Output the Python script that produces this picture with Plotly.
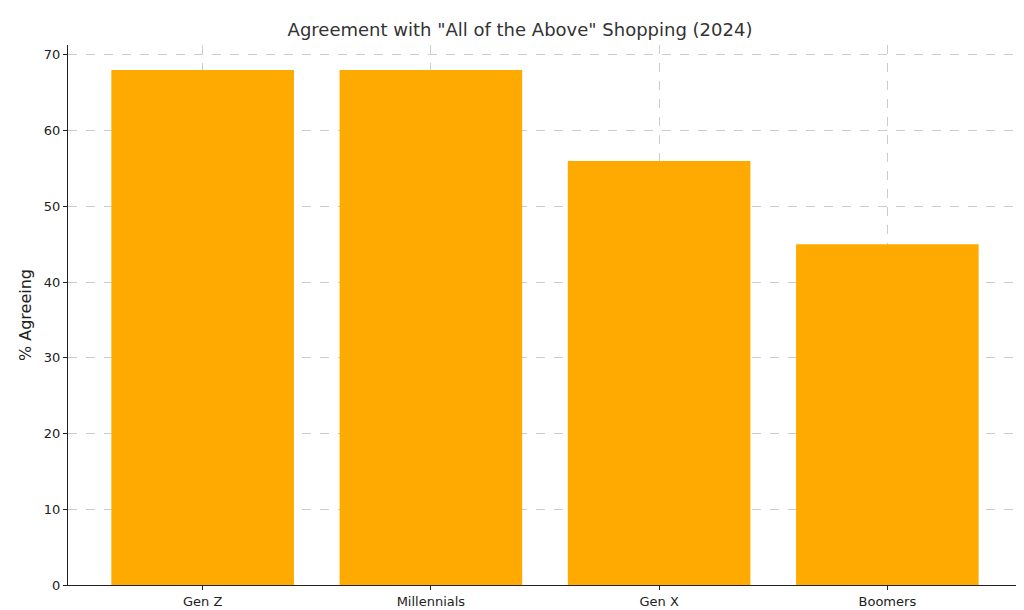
import plotly.graph_objects as go

generations = ["Gen Z", "Millennials", "Gen X", "Boomers"]
pct_agreeing = [68, 68, 56, 45]

fig = go.Figure(go.Bar(x=generations, y=pct_agreeing, marker_color="#FFAA00",
                       marker_line_width=0, width=0.8))

fig.update_layout(
    width=1024, height=610,
    margin=dict(l=60, r=10, t=37, b=33),
    plot_bgcolor="white", paper_bgcolor="white",
    font=dict(family="DejaVu Sans", size=13, color="#222"),
    title=dict(text='Agreement with "All of the Above" Shopping (2024)',
               x=0.5, xanchor="center", y=0.965, yanchor="middle",
               font=dict(size=18, color="#333")),
    showlegend=False,
)
fig.update_xaxes(range=[-0.59, 3.59], showline=True, linecolor="#222", linewidth=1,
                 showgrid=True, gridcolor="#ccc", griddash="dash", layer="above traces",
                 ticks="outside", ticklen=4, tickcolor="#222")
fig.update_yaxes(range=[0, 71.3], dtick=10, showline=True, linecolor="#222", linewidth=1,
                 showgrid=True, gridcolor="#ccc", griddash="dash", layer="above traces",
                 ticks="outside", ticklen=4, tickcolor="#222", zeroline=False,
                 title=dict(text="% Agreeing", standoff=8))

fig.write_html("out.html")
